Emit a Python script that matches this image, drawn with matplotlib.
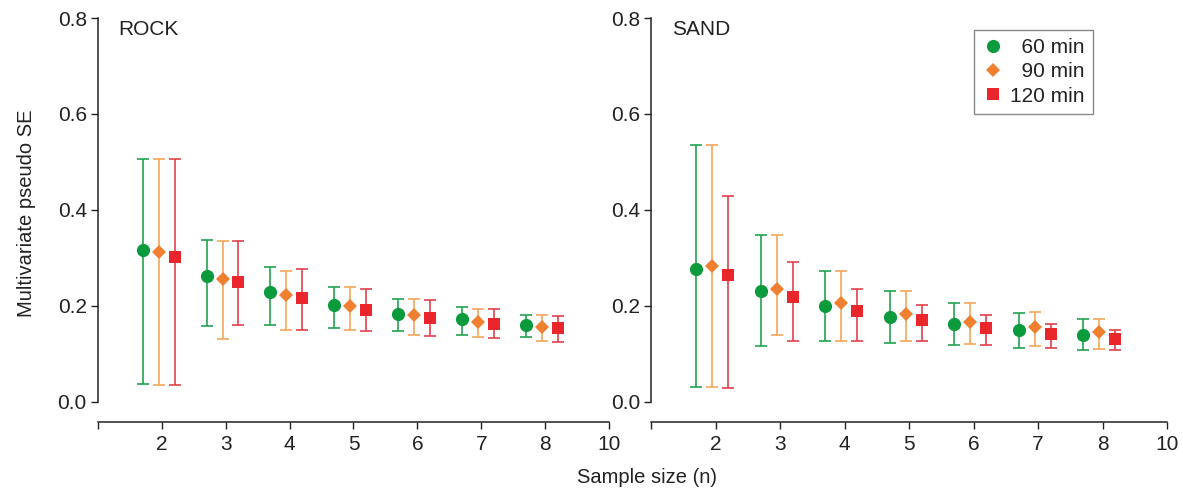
import matplotlib
matplotlib.use("Agg")
import matplotlib.pyplot as plt

plt.rcParams['font.family'] = ['Liberation Sans', 'DejaVu Sans']

# sample sizes (n) and the tick labels along the x axis
sizes = [2, 3, 4, 5, 6, 7, 8]
tickPos = [1, 2, 3, 4, 5, 6, 7, 8, 9]
tickLabels = ['', '2', '3', '4', '5', '6', '7', '8', '10']
yTicks = [0.0, 0.2, 0.4, 0.6, 0.8]

# ROCK: mean, upper and lower limits
rock60 = [0.317, 0.262, 0.228, 0.202, 0.184, 0.172, 0.161]
rock60Hi = [0.506, 0.337, 0.281, 0.240, 0.215, 0.197, 0.182]
rock60Lo = [0.038, 0.158, 0.161, 0.153, 0.147, 0.140, 0.136]
rock90 = [0.313, 0.256, 0.222, 0.199, 0.181, 0.167, 0.156]
rock90Hi = [0.506, 0.335, 0.273, 0.240, 0.215, 0.194, 0.181]
rock90Lo = [0.035, 0.132, 0.150, 0.150, 0.140, 0.135, 0.127]
rock120 = [0.301, 0.250, 0.217, 0.192, 0.174, 0.163, 0.153]
rock120Hi = [0.506, 0.335, 0.276, 0.235, 0.212, 0.194, 0.179]
rock120Lo = [0.035, 0.161, 0.150, 0.147, 0.138, 0.133, 0.125]

# SAND
sand60 = [0.277, 0.232, 0.200, 0.176, 0.163, 0.149, 0.140]
sand60Hi = [0.535, 0.347, 0.273, 0.232, 0.206, 0.185, 0.172]
sand60Lo = [0.031, 0.116, 0.126, 0.122, 0.119, 0.113, 0.109]
sand90 = [0.284, 0.236, 0.206, 0.183, 0.167, 0.156, 0.145]
sand90Hi = [0.535, 0.347, 0.273, 0.232, 0.206, 0.188, 0.172]
sand90Lo = [0.031, 0.140, 0.126, 0.126, 0.121, 0.116, 0.111]
sand120 = [0.264, 0.218, 0.189, 0.170, 0.154, 0.141, 0.131]
sand120Hi = [0.430, 0.291, 0.235, 0.201, 0.181, 0.163, 0.149]
sand120Lo = [0.028, 0.126, 0.126, 0.126, 0.119, 0.113, 0.109]

labels = ['  60 min', '  90 min', '120 min']
markers = ['o', 'D', 's']
msizes = [9.5, 7, 8]
colors = ['#0b9a3c', '#f08030', '#e8262b']
barColors = ['#22a352', '#f5a55a', '#e0414c']
offsets = [-0.3, -0.05, 0.2]


def drawPanel(ax, series, title):
	for i, (mean, hi, lo) in enumerate(series):
		xs = [s + offsets[i] for s in sizes]
		err = [[m - l for m, l in zip(mean, lo)], [h - m for m, h in zip(mean, hi)]]
		ax.errorbar(xs, mean, yerr=err, fmt='none', ecolor=barColors[i],
			elinewidth=1.2, capsize=4.5, capthick=1.2, zorder=2)
		ax.plot(xs, mean, linestyle='none', marker=markers[i], markersize=msizes[i],
			color=colors[i], markeredgewidth=0, label=labels[i], zorder=3)
	ax.set_xlim(1, 9)
	ax.set_ylim(-0.042, 0.805)
	ax.set_xticks(tickPos)
	ax.set_xticklabels(tickLabels)
	ax.set_yticks(yTicks)
	ax.set_yticklabels(["{:.1f}".format(v) for v in yTicks])
	for side in ['top', 'right']:
		ax.spines[side].set_visible(False)
	ax.spines['left'].set_bounds(0, 0.8)
	ax.spines['bottom'].set_bounds(1, 9)
	for side in ['left', 'bottom']:
		ax.spines[side].set_linewidth(1.1)
		ax.spines[side].set_color('#222222')
	ax.tick_params(axis='both', labelsize=15, length=5, width=1.0, color='#222222',
		labelcolor='#222222', pad=3)
	ax.tick_params(axis='x', pad=4)
	ax.text(0.04, 0.965, title, transform=ax.transAxes, fontsize=15,
		color='#222222', ha='left', va='center')


fig = plt.figure(figsize=(11.83, 4.97), dpi=100)
axRock = fig.add_axes([0.0828, 0.1509, 0.432, 0.8177])
axSand = fig.add_axes([0.5503, 0.1509, 0.4362, 0.8177])

drawPanel(axRock, [(rock60, rock60Hi, rock60Lo), (rock90, rock90Hi, rock90Lo),
	(rock120, rock120Hi, rock120Lo)], 'ROCK')
drawPanel(axSand, [(sand60, sand60Hi, sand60Lo), (sand90, sand90Hi, sand90Lo),
	(sand120, sand120Hi, sand120Lo)], 'SAND')

leg = axSand.legend(loc='upper right', bbox_to_anchor=(0.856, 0.965), fontsize=15,
	frameon=True, fancybox=False, edgecolor='#888888', framealpha=1,
	handlelength=1.0, handletextpad=0.3, labelspacing=0.25, borderpad=0.4,
	borderaxespad=0)
leg.get_frame().set_linewidth(1.0)
for t in leg.get_texts():
	t.set_color('#222222')

fig.text(27 / 1183, 0.570, 'Multivariate pseudo SE', rotation=90, fontsize=14.5,
	color='#222222', ha='center', va='center')
fig.text(0.547, 0.04, 'Sample size (n)', fontsize=14.5, color='#222222',
	ha='center', va='center')

fig.savefig('out.png', dpi=100)
